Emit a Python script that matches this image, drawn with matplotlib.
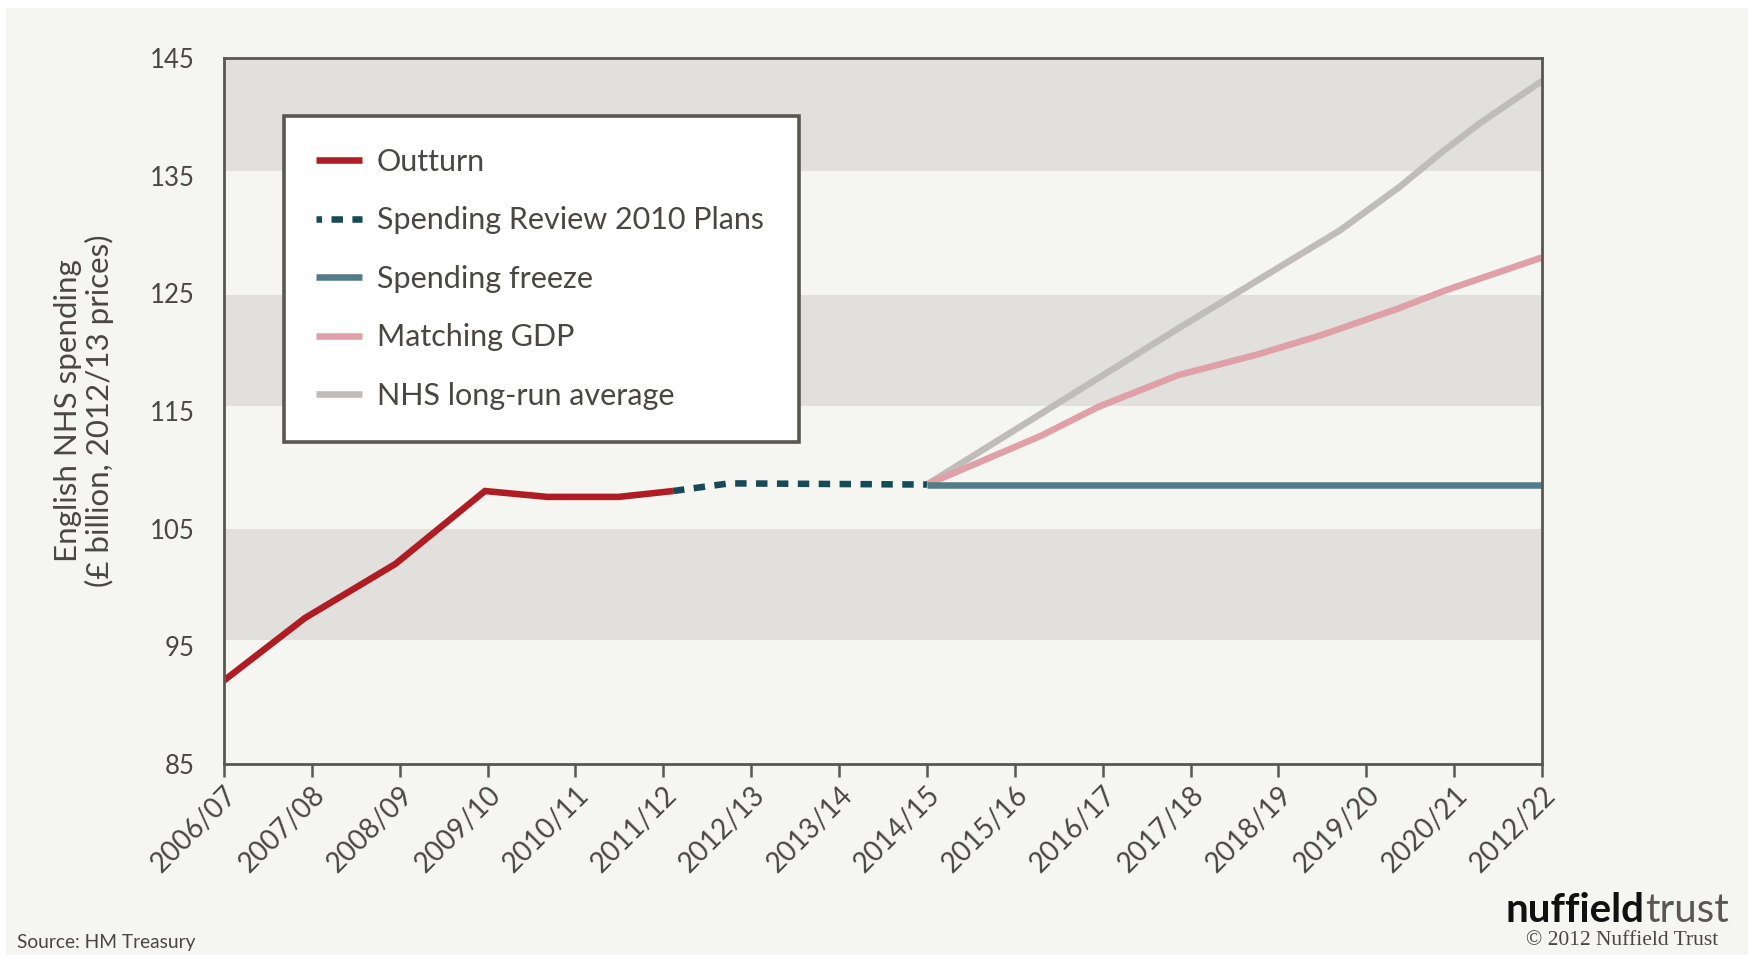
import matplotlib
matplotlib.use("Agg")
import matplotlib.pyplot as plt
from matplotlib.patches import Rectangle
from matplotlib.lines import Line2D

# ---- data -------------------------------------------------------------
years = ["2006/07", "2007/08", "2008/09", "2009/10", "2010/11", "2011/12",
         "2012/13", "2013/14", "2014/15", "2015/16", "2016/17", "2017/18",
         "2018/19", "2019/20", "2020/21", "2012/22"]

# x positions are on the year-index scale (0 = 2006/07), y in £ billion
outturn_x = [0.0, 0.92, 1.95, 2.97, 3.68, 4.49, 5.11]
outturn_y = [92.1, 97.4, 102.0, 108.2, 107.7, 107.7, 108.2]

plans_x = [5.11, 5.75, 8.0]
plans_y = [108.2, 108.85, 108.75]

freeze_x = [8.0, 15.0]
freeze_y = [108.75, 108.75]

gdp_x = [8.0, 9.3, 9.95, 10.86, 11.76, 12.49, 13.36, 13.90, 15.0]
gdp_y = [108.75, 112.9, 115.35, 118.05, 119.8, 121.45, 123.7, 125.25, 128.05]

longrun_x = [8.0, 10.89, 12.70, 13.38, 13.86, 14.31, 15.0]
longrun_y = [108.75, 122.15, 130.35, 134.05, 137.0, 139.55, 143.05]

y_ticks = [85, 95, 105, 115, 125, 135, 145]
band_ranges = [(95.5, 104.95), (115.4, 124.9), (135.4, 145.0)]

labels = ["Outturn", "Spending Review 2010 Plans", "Spending freeze",
          "Matching GDP", "NHS long-run average"]

# ---- style ------------------------------------------------------------
BG = "#f5f5f1"
BAND = "#e1e0dc"
INK = "#4a4644"
FRAME = "#5a5651"
C_RED = "#b01c24"
C_PLAN = "#164a55"
C_FREEZE = "#527c8a"
C_GDP = "#e0a0a8"
C_AVG = "#c0bcb9"
FONT = "Lato"

plt.rcParams["font.family"] = [FONT, "DejaVu Sans"]

W, H = 1748, 955
fig = plt.figure(figsize=(W / 100, H / 100), dpi=100, facecolor="white")
fig.patches.append(Rectangle((6 / W, 0), 1, 1 - 8 / H, transform=fig.transFigure,
                             facecolor=BG, edgecolor="none", zorder=-10))

ax = fig.add_axes([224 / W, 1 - 764 / H, (1542 - 224) / W, (764 - 58) / H])
ax.set_facecolor(BG)
ax.set_xlim(0, len(years) - 1)
ax.set_ylim(y_ticks[0], y_ticks[-1])

for lo, hi in band_ranges:
    ax.axhspan(lo, hi, color=BAND, lw=0, zorder=0)

LW = 4.7
ax.plot(longrun_x, longrun_y, color=C_AVG, lw=LW, solid_capstyle="butt", zorder=2)
ax.plot(gdp_x, gdp_y, color=C_GDP, lw=LW, solid_capstyle="butt", zorder=3)
ax.plot(freeze_x, freeze_y, color=C_FREEZE, lw=LW, solid_capstyle="butt", zorder=4)
ax.plot(plans_x, plans_y, color=C_PLAN, lw=LW, linestyle=(0, (1.75, 1.45)),
        dash_capstyle="butt", zorder=5)
ax.plot(outturn_x, outturn_y, color=C_RED, lw=LW, solid_capstyle="butt",
        solid_joinstyle="miter", zorder=6)

# axes frame and ticks
for s in ax.spines.values():
    s.set_color(FRAME)
    s.set_linewidth(2.0)
    s.set_zorder(8)

ax.set_yticks(y_ticks)
ax.set_yticklabels([str(v) for v in y_ticks])
ax.tick_params(axis="y", length=0, pad=21, labelsize=18.5, labelcolor=INK)

ax.set_xticks(range(len(years)))
ax.set_xticklabels(years, rotation=45, ha="right", va="top", rotation_mode="anchor")
ax.tick_params(axis="x", direction="out", length=9.5, width=1.8, color=FRAME,
               pad=3, labelsize=20, labelcolor=INK)

ax.set_ylabel("English NHS spending\n(£ billion, 2012/13 prices)", fontsize=22.5,
              color=INK, labelpad=26, linespacing=1.1)

# legend
handles = [
    Line2D([], [], color=C_RED, lw=LW, solid_capstyle="butt"),
    Line2D([], [], color=C_PLAN, lw=LW, linestyle=(0.9, (1.75, 1.45)), dash_capstyle="butt"),
    Line2D([], [], color=C_FREEZE, lw=LW, solid_capstyle="butt"),
    Line2D([], [], color=C_GDP, lw=LW, solid_capstyle="butt"),
    Line2D([], [], color=C_AVG, lw=LW, solid_capstyle="butt"),
]
leg = ax.legend(handles, labels, loc="upper left",
                bbox_to_anchor=(0.0455, 0.462, 0.3905, 0.456), mode="expand",
                borderaxespad=0, fontsize=22, frameon=True, fancybox=False,
                facecolor="white", framealpha=1, edgecolor=FRAME,
                handlelength=1.5, handletextpad=0.5, labelspacing=1.0,
                borderpad=1.04)
leg.get_frame().set_linewidth(2.6)
leg.set_zorder(10)
for t in leg.get_texts():
    t.set_color(INK)

# footer
fig.text(17 / W, 1 - 942 / H, "Source: HM Treasury", fontsize=13.8, color=INK,
         ha="left", va="center")
fig.text(1645 / W, 1 - 922 / H, "nuffield", fontsize=29, fontweight="bold",
         color="#111111", ha="right", va="baseline")
fig.text(1645 / W, 1 - 922 / H, "trust", fontsize=29, color=FRAME,
         ha="left", va="baseline")
fig.text(1622 / W, 1 - 940 / H, "© 2012 Nuffield Trust", fontsize=15.5,
         family=["Liberation Serif", "DejaVu Serif"], color=INK,
         ha="center", va="center")

fig.savefig("out.png", dpi=100, facecolor=fig.get_facecolor())
